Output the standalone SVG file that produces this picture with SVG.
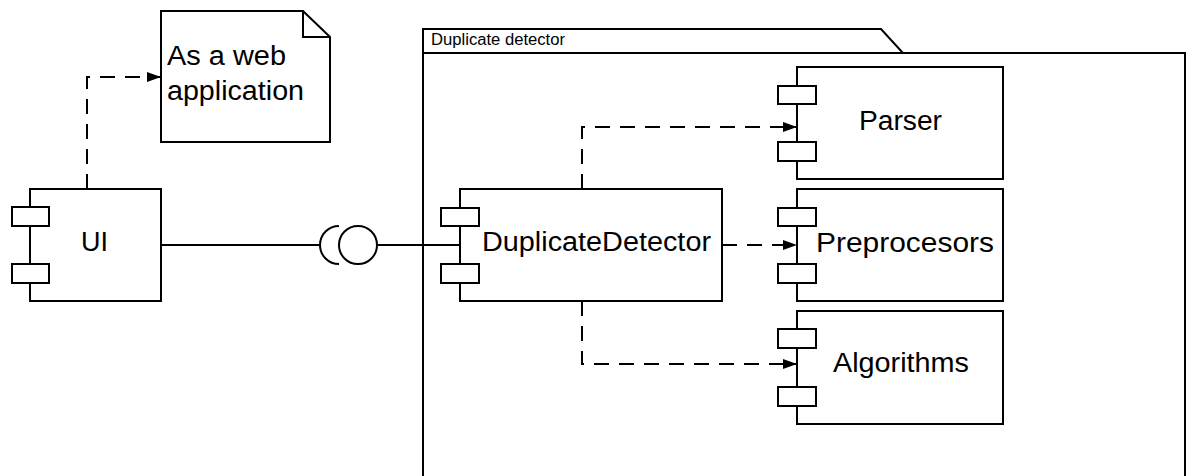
<svg xmlns="http://www.w3.org/2000/svg" width="1186" height="476" viewBox="0 0 1186 476">
  <style>
    .shape { fill: #ffffff; stroke: #000000; stroke-width: 2; }
    .line { fill: none; stroke: #000000; stroke-width: 2; }
    .dep { fill: none; stroke: #000000; stroke-width: 2; stroke-dasharray: 15 10; }
    .label { font-family: "Liberation Sans", Arial, sans-serif; font-size: 27px; fill: #000000; }
    .small { font-family: "Liberation Sans", Arial, sans-serif; font-size: 16px; fill: #000000; }
  </style>
  <defs>
    <marker id="arrow" markerUnits="userSpaceOnUse" markerWidth="14" markerHeight="10" refX="14" refY="5" orient="auto">
      <path d="M0,0 L14,5 L0,10 Z" fill="#000000"/>
    </marker>
  </defs>

  <rect width="1186" height="476" fill="#ffffff"/>

  <!-- package frame -->
  <g id="package-duplicate-detector">
    <path class="shape" d="M423,53 L423,29 L881,29 L903,53 Z"/>
    <rect class="shape" x="423" y="53" width="762" height="440"/>
    <text class="small" x="431" y="45" textLength="134" lengthAdjust="spacingAndGlyphs">Duplicate detector</text>
  </g>

  <!-- note -->
  <g id="note-web-app">
    <path class="shape" d="M161,11 L303,11 L330,37 L330,142 L161,142 Z"/>
    <path class="line" d="M303,11 L303,37 L330,37"/>
    <text class="label" x="167" y="65" textLength="119" lengthAdjust="spacingAndGlyphs">As a web</text>
    <text class="label" x="167" y="100" textLength="137" lengthAdjust="spacingAndGlyphs">application</text>
  </g>

  <!-- components -->
  <g id="component-ui">
    <rect class="shape" x="30" y="189" width="131" height="112"/>
    <rect class="shape" x="12" y="207" width="37" height="19"/>
    <rect class="shape" x="12" y="264" width="37" height="19"/>
    <text class="label" x="81" y="251">UI</text>
  </g>

  <g id="component-duplicate-detector">
    <rect class="shape" x="460" y="189" width="262" height="112"/>
    <rect class="shape" x="441" y="208" width="38" height="18"/>
    <rect class="shape" x="441" y="264" width="38" height="19"/>
    <text class="label" x="482" y="251" textLength="229" lengthAdjust="spacingAndGlyphs">DuplicateDetector</text>
  </g>

  <g id="component-parser">
    <rect class="shape" x="797" y="67" width="206" height="112"/>
    <rect class="shape" x="778" y="86" width="38" height="18"/>
    <rect class="shape" x="778" y="142" width="38" height="19"/>
    <text class="label" x="859" y="130" textLength="83" lengthAdjust="spacingAndGlyphs">Parser</text>
  </g>

  <g id="component-preprocesors">
    <rect class="shape" x="797" y="189" width="206" height="112"/>
    <rect class="shape" x="778" y="208" width="38" height="18"/>
    <rect class="shape" x="778" y="264" width="38" height="19"/>
    <text class="label" x="816" y="252" textLength="178" lengthAdjust="spacingAndGlyphs">Preprocesors</text>
  </g>

  <g id="component-algorithms">
    <rect class="shape" x="797" y="311" width="206" height="113"/>
    <rect class="shape" x="778" y="329" width="38" height="19"/>
    <rect class="shape" x="778" y="387" width="38" height="19"/>
    <text class="label" x="833" y="372" textLength="136" lengthAdjust="spacingAndGlyphs">Algorithms</text>
  </g>

  <!-- connectors -->
  <g id="connectors">
    <path class="dep" d="M87,189 V77 H161" marker-end="url(#arrow)"/>
    <!-- required interface (socket) on UI, provided interface (ball) on DuplicateDetector -->
    <path class="line" d="M161,245 H320"/>
    <path class="line" d="M339,226 A19,19 0 0 0 339,264"/>
    <circle class="shape" cx="358" cy="245" r="19"/>
    <path class="line" d="M377,245 H460"/>
    <path class="dep" d="M582,189 V127 H797" marker-end="url(#arrow)"/>
    <path class="dep" d="M722,245 H797" marker-end="url(#arrow)"/>
    <path class="dep" d="M582,301 V364 H797" marker-end="url(#arrow)"/>
  </g>
</svg>
